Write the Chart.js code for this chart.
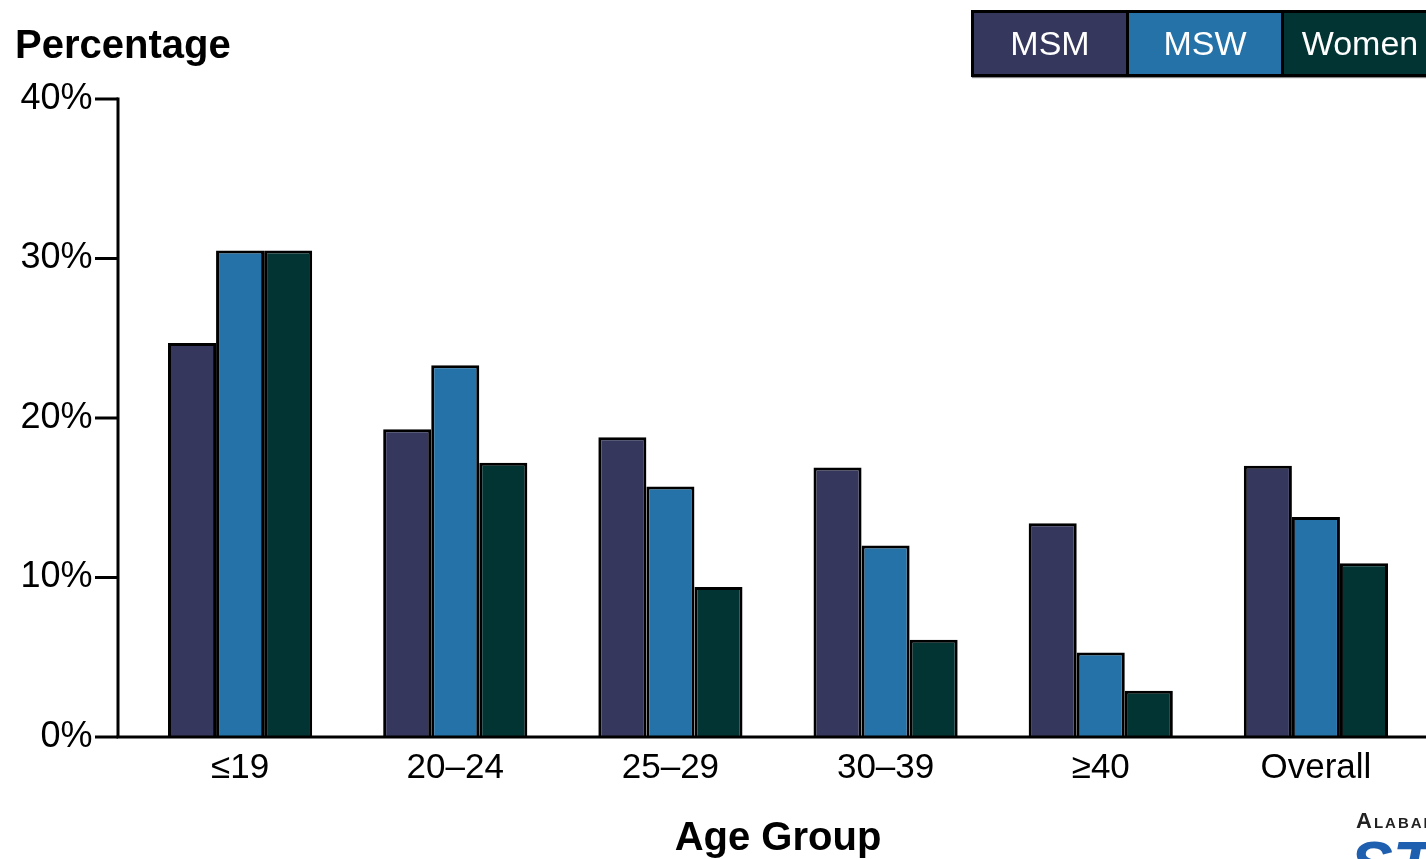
<!DOCTYPE html>
<html>
<head>
<meta charset="utf-8">
<script src="https://cdn.jsdelivr.net/npm/chart.js@4.4.1/dist/chart.umd.min.js"></script>
<style>
  html, body { margin: 0; padding: 0; background: #fff; overflow: hidden; }
  #wrap { position: relative; width: 1426px; height: 859px; }
  canvas { position: absolute; left: 0; top: 0; }
  #ytitle { position: absolute; left: 15px; top: 22px; font: bold 40px "Liberation Sans", Arial, sans-serif; color: #000; }
  #legend { position: absolute; left: 971px; top: 10px; height: 61px; display: flex; border: 3px solid #000; background: #000; box-shadow: 1px 1px 1px #888; }
  .item { width: 152px; height: 61px; margin-right: 3px; display: flex; align-items: center; justify-content: center; color: #fff; font: 34px "Liberation Sans", Arial, sans-serif; }
  #logo { position: absolute; left: 1356px; top: 808px; font: bold 22px "Liberation Sans", Arial, sans-serif; font-variant: small-caps; color: #222; letter-spacing: 2px; }
  #logo2 { position: absolute; left: 1350px; top: 828px; font: bold italic 64px "Liberation Sans", Arial, sans-serif; color: #1f5fb0; }
</style>
</head>
<body>
<div id="wrap">
  <canvas id="c" width="1426" height="859"></canvas>
  <div id="ytitle">Percentage</div>
  <div id="legend"></div>
  <div id="logo">Alabama</div>
  <div id="logo2">STD</div>
</div>
<script>
const categories = ["\u226419", "20\u201324", "25\u201329", "30\u201339", "\u226540", "Overall"];
const msm   = [24.7, 19.3, 18.8, 16.9, 13.4, 17.0];
const msw   = [30.5, 23.3, 15.7, 12.0, 5.3, 13.8];
const women = [30.5, 17.2, 9.4, 6.1, 2.9, 10.9];
const seriesLabels = ["MSM", "MSW", "Women"];
const seriesColors = ["#35375c", "#2472a8", "#023434"];
const yTicks = [0, 10, 20, 30, 40];

const FONT = '"Liberation Sans", Arial, sans-serif';
const AXIS_X = 118;

const axisPlugin = {
  id: 'axisLines',
  afterDatasetsDraw(chart) {
    const ctx = chart.ctx;
    const y = chart.scales.y;
    const y0 = y.getPixelForValue(0);
    const yTop = y.getPixelForValue(40);
    ctx.save();
    ctx.strokeStyle = '#000';
    ctx.lineWidth = 3;
    ctx.lineCap = 'butt';
    ctx.beginPath();
    ctx.moveTo(AXIS_X, yTop - 1.5);
    ctx.lineTo(AXIS_X, y0);
    ctx.stroke();
    yTicks.forEach(v => {
      const py = y.getPixelForValue(v);
      ctx.beginPath();
      ctx.moveTo(AXIS_X - 23, py);
      ctx.lineTo(AXIS_X, py);
      ctx.stroke();
    });
    ctx.beginPath();
    ctx.moveTo(AXIS_X - 1.5, y0);
    ctx.lineTo(1426, y0);
    ctx.stroke();
    ctx.restore();
  }
};

const datasets = [msm, msw, women].map((d, i) => ({
  label: seriesLabels[i],
  data: d,
  backgroundColor: seriesColors[i],
  borderColor: '#000',
  borderWidth: 3,
  categoryPercentage: 0.67,
  barPercentage: 1.0
}));

new Chart(document.getElementById('c'), {
  type: 'bar',
  data: { labels: categories, datasets },
  options: {
    responsive: false,
    animation: false,
    layout: { padding: { left: 0, right: 2.5, top: 99, bottom: 0 } },
    plugins: { legend: { display: false }, tooltip: { enabled: false } },
    scales: {
      x: {
        grid: { display: false },
        border: { display: false },
        ticks: { color: '#000', font: { family: FONT, size: 35 }, padding: 2, maxRotation: 0 },
        title: { display: true, text: 'Age Group', color: '#000', font: { family: FONT, size: 40, weight: 'bold', lineHeight: 1 }, padding: { top: 0, bottom: 0 } },
        afterFit(s) { s.height = 122; }
      },
      y: {
        min: 0, max: 40,
        afterBuildTicks(s) { s.ticks = yTicks.map(v => ({ value: v })); },
        grid: { display: false },
        border: { display: false },
        ticks: { color: '#000', font: { family: FONT, size: 36 }, padding: 32, callback: v => v + '%' },
        afterFit(s) { s.width = 132.5; }
      }
    }
  },
  plugins: [axisPlugin]
});

const legend = document.getElementById('legend');
seriesLabels.forEach((l, i) => {
  const d = document.createElement('div');
  d.className = 'item';
  d.style.background = seriesColors[i];
  d.textContent = l;
  legend.appendChild(d);
});
</script>
</body>
</html>
